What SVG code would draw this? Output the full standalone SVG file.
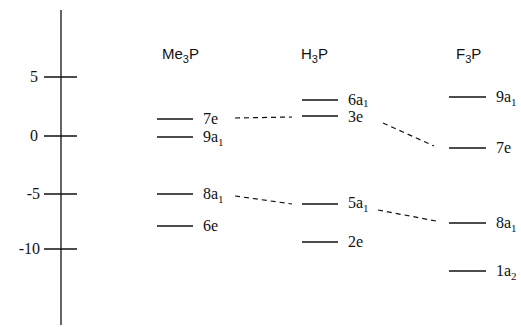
<svg xmlns="http://www.w3.org/2000/svg" width="521" height="327" viewBox="0 0 521 327">
  <style>
    .ax { stroke: #111; stroke-width: 1.3; fill: none; }
    .lv { stroke: #111; stroke-width: 1.4; fill: none; }
    .cn { stroke: #111; stroke-width: 1.2; fill: none; stroke-dasharray: 5 4; }
    .num, .lbl { font-family: "Liberation Serif", "DejaVu Serif", "Times New Roman", serif; font-size: 16px; fill: #111; }
    .hd { font-family: "Liberation Sans", Arial, sans-serif; font-size: 15px; fill: #111; }
    .sub { font-size: 11px; }
  </style>

  <!-- energy axis -->
  <g id="axis">
    <line class="ax" x1="61" y1="10" x2="61" y2="325"/>
    <line class="ax" x1="44" y1="77" x2="77" y2="77"/>
    <line class="ax" x1="44" y1="136" x2="77" y2="136"/>
    <line class="ax" x1="44" y1="194" x2="77" y2="194"/>
    <line class="ax" x1="44" y1="249" x2="77" y2="249"/>
    <text class="num" x="38" y="82" text-anchor="end">5</text>
    <text class="num" x="38" y="141" text-anchor="end">0</text>
    <text class="num" x="40" y="199" text-anchor="end">-5</text>
    <text class="num" x="40" y="254" text-anchor="end">-10</text>
  </g>

  <!-- column headers -->
  <g id="hdr-me3p"><text class="hd" x="162" y="59">Me<tspan class="sub" dy="4">3</tspan><tspan dy="-4">P</tspan></text></g>
  <g id="hdr-h3p"><text class="hd" x="301" y="59">H<tspan class="sub" dy="4">3</tspan><tspan dy="-4">P</tspan></text></g>
  <g id="hdr-f3p"><text class="hd" x="456" y="59">F<tspan class="sub" dy="4">3</tspan><tspan dy="-4">P</tspan></text></g>

  <!-- Me3P levels -->
  <g id="me3p-7e"><line class="lv" x1="157" y1="119" x2="193" y2="119"/><text class="lbl" x="203" y="124">7e</text></g>
  <g id="me3p-9a1"><line class="lv" x1="157" y1="137" x2="193" y2="137"/><text class="lbl" x="203" y="142">9a<tspan class="sub" dy="4">1</tspan></text></g>
  <g id="me3p-8a1"><line class="lv" x1="157" y1="194" x2="193" y2="194"/><text class="lbl" x="203" y="199">8a<tspan class="sub" dy="4">1</tspan></text></g>
  <g id="me3p-6e"><line class="lv" x1="157" y1="226" x2="193" y2="226"/><text class="lbl" x="203" y="231">6e</text></g>

  <!-- H3P levels -->
  <g id="h3p-6a1"><line class="lv" x1="302" y1="100" x2="338" y2="100"/><text class="lbl" x="348" y="105">6a<tspan class="sub" dy="2">1</tspan></text></g>
  <g id="h3p-3e"><line class="lv" x1="302" y1="116" x2="338" y2="116"/><text class="lbl" x="348" y="122">3e</text></g>
  <g id="h3p-5a1"><line class="lv" x1="302" y1="204" x2="338" y2="204"/><text class="lbl" x="348" y="208">5a<tspan class="sub" dy="4">1</tspan></text></g>
  <g id="h3p-2e"><line class="lv" x1="302" y1="242" x2="338" y2="242"/><text class="lbl" x="348" y="247">2e</text></g>

  <!-- F3P levels -->
  <g id="f3p-9a1"><line class="lv" x1="449" y1="97" x2="486" y2="97"/><text class="lbl" x="496" y="102">9a<tspan class="sub" dy="4">1</tspan></text></g>
  <g id="f3p-7e"><line class="lv" x1="449" y1="148" x2="486" y2="148"/><text class="lbl" x="496" y="153">7e</text></g>
  <g id="f3p-8a1"><line class="lv" x1="449" y1="223" x2="486" y2="223"/><text class="lbl" x="496" y="228">8a<tspan class="sub" dy="4">1</tspan></text></g>
  <g id="f3p-1a2"><line class="lv" x1="449" y1="271" x2="486" y2="271"/><text class="lbl" x="496" y="276">1a<tspan class="sub" dy="4">2</tspan></text></g>

  <!-- correlation lines -->
  <g id="connectors">
    <line class="cn" x1="235" y1="118" x2="292" y2="117"/>
    <line class="cn" x1="235" y1="196" x2="292" y2="204"/>
    <line class="cn" x1="383" y1="123" x2="434" y2="146"/>
    <line class="cn" x1="378" y1="210" x2="436" y2="221"/>
  </g>
</svg>
